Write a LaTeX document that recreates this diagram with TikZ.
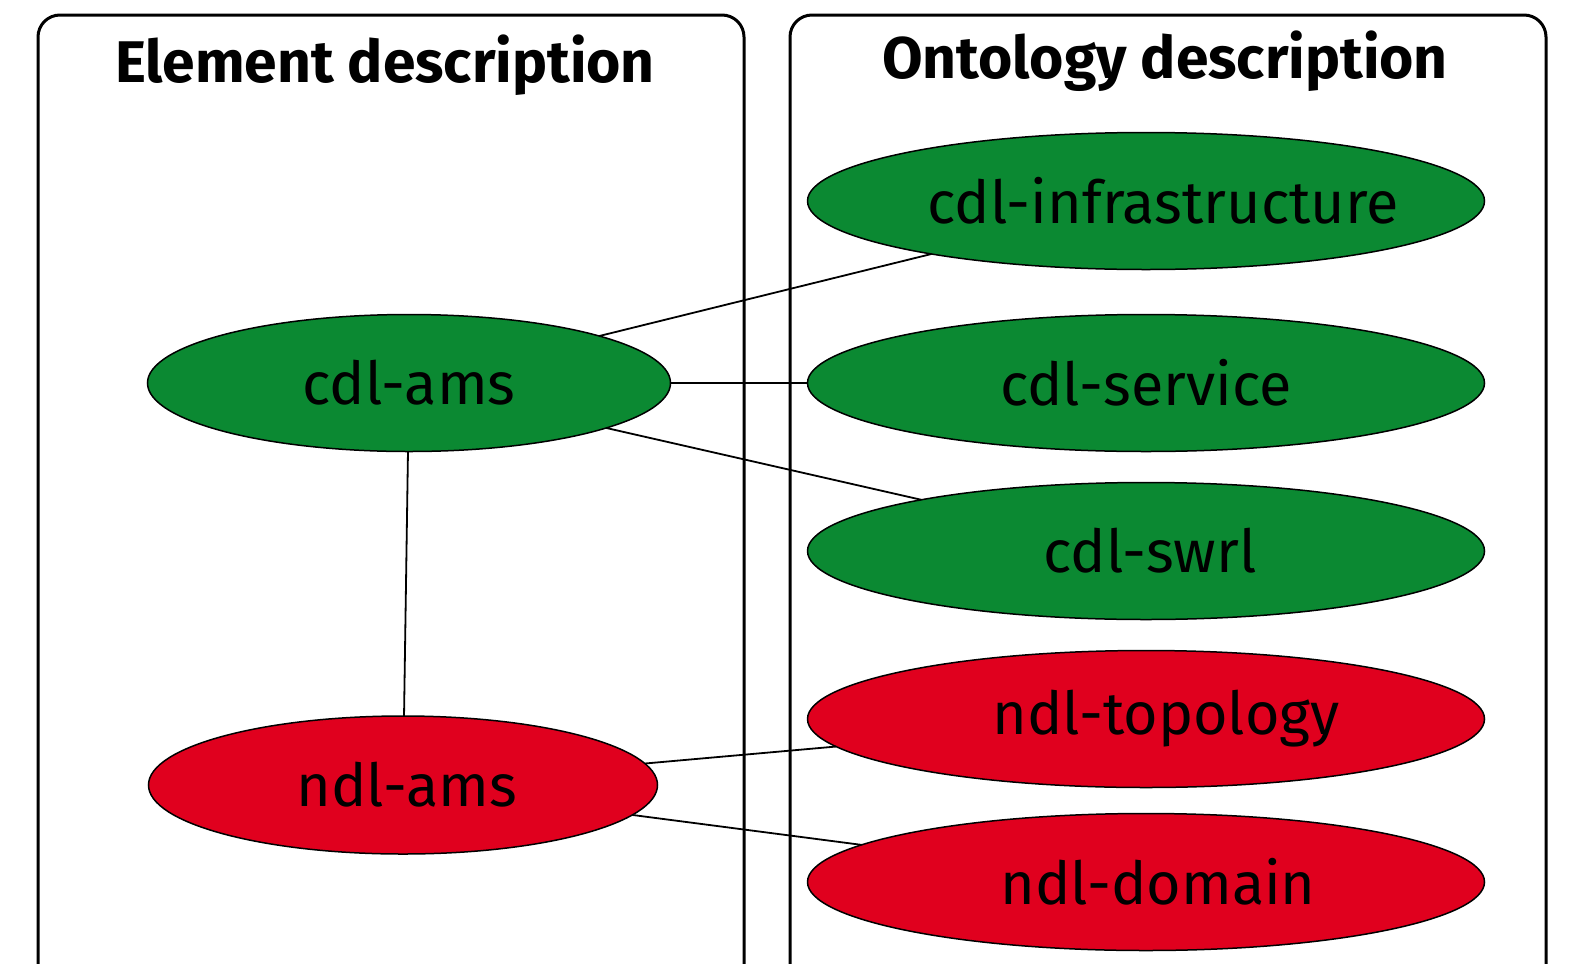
\documentclass[tikz,border=0pt]{standalone}
\usepackage{fontspec}
\setmainfont{Fira Sans}
\usetikzlibrary{shapes.geometric}
\definecolor{cgreen}{RGB}{11,137,50}
\definecolor{cred}{RGB}{224,0,30}
\newcommand{\shifted}[2]{\makebox[0pt]{\hspace*{#1bp}#2}}
\begin{document}
\begin{tikzpicture}[x=1bp,y=-1bp,
  frame/.style={draw=black,line width=3bp,rounded corners=22bp},
  title/.style={font=\fontsize{59}{62}\selectfont\bfseries,anchor=base},
  ell/.style={ellipse,draw=black,line width=1.5bp,inner sep=0pt,outer sep=0pt,font=\fontsize{59.5}{62}\selectfont},
  gell/.style={ell,fill=cgreen},
  rell/.style={ell,fill=cred},
  big/.style={minimum width=677bp,minimum height=137bp},
  link/.style={draw=black,line width=1.8bp}]
\useasboundingbox (0,0) rectangle (1573,963);
\clip (0,0) rectangle (1573,963);
\draw[frame] (38,15) rectangle (744,990);
\draw[frame] (790,15) rectangle (1546,990);
\node[title] (t1) at (385,82) {Element description};
\node[title] (t2) at (1165,78) {Ontology description};
\node[gell,big] (inf) at (1146,201) {\shifted{34}{cdl-infrastructure}};
\node[gell,big] (svc) at (1146,383) {\shifted{0}{cdl-service}};
\node[gell,big] (swrl) at (1146,551) {\shifted{8}{cdl-swrl}};
\node[rell,big] (topo) at (1146,719) {\shifted{40}{ndl-topology}};
\node[rell,big] (dom) at (1146,882) {\shifted{24}{ndl-domain}};
\node[gell,minimum width=523bp,minimum height=137bp] (cams) at (409,383) {\shifted{0}{cdl-ams}};
\node[rell,minimum width=509bp,minimum height=138bp] (nams) at (403,785) {\shifted{8}{ndl-ams}};
\draw[link] (cams) -- (inf);
\draw[link] (cams) -- (svc);
\draw[link] (cams) -- (swrl);
\draw[link] (cams) -- (nams);
\draw[link] (nams) -- (topo);
\draw[link] (nams) -- (dom);
\end{tikzpicture}
\end{document}
